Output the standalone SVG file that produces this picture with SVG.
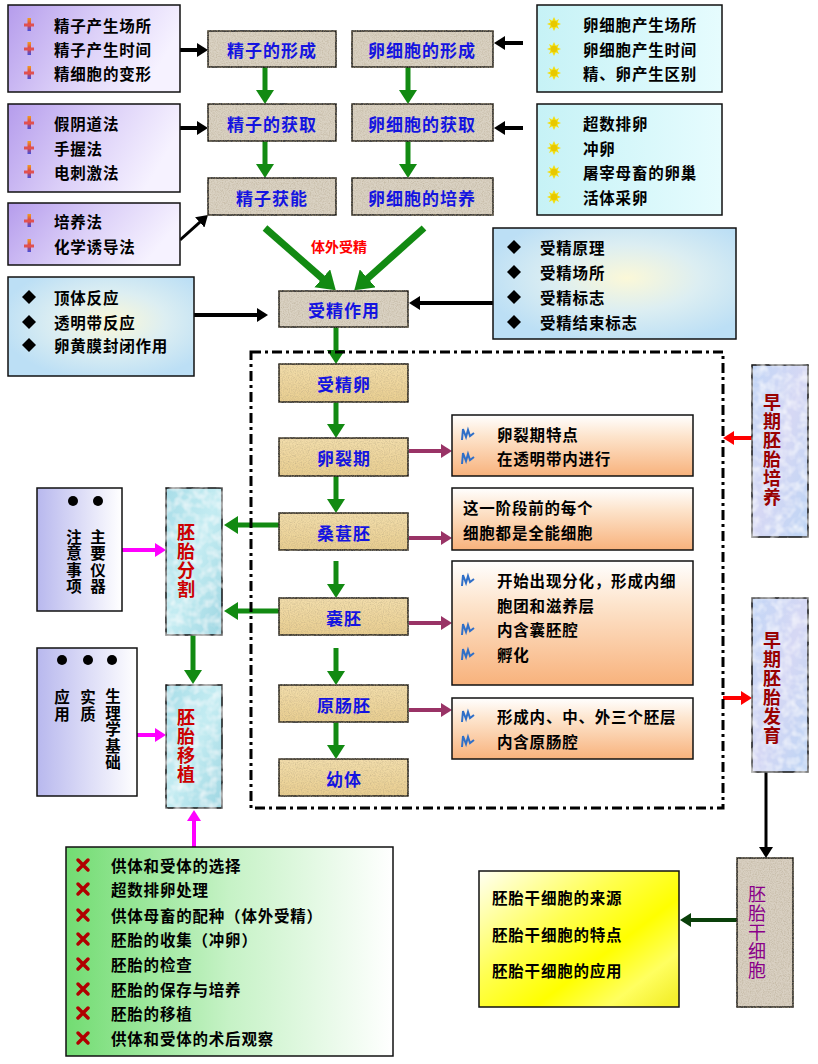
<svg xmlns="http://www.w3.org/2000/svg" xmlns:xlink="http://www.w3.org/1999/xlink" width="818" height="1064" viewBox="0 0 818 1064">
<style>
text{font-family:'Noto Sans CJK SC','Noto Sans CJK JP',sans-serif;font-weight:bold;dominant-baseline:central}
.li{font-size:15.5px;fill:#000;letter-spacing:0.8px}
.nd{font-size:17px;fill:#1414E0;text-anchor:middle;letter-spacing:1px}
.vt{font-size:15.5px;fill:#000;text-anchor:middle;writing-mode:vertical-rl;letter-spacing:1px}
.vr{font-size:18px;fill:#CC0000;text-anchor:middle;writing-mode:vertical-rl;letter-spacing:1px}
.vd{font-size:18px;fill:#990000;text-anchor:middle;writing-mode:vertical-rl;letter-spacing:1px}
.vp{font-size:18px;fill:#8A008A;text-anchor:middle;font-weight:normal;writing-mode:vertical-rl;letter-spacing:1px}
.box{stroke:#111;stroke-width:1.5}
.ag{stroke:#128A12;stroke-width:5;fill:none}
.agb{stroke:#128A12;stroke-width:7;fill:none}
.ak{stroke:#000;stroke-width:4;fill:none}
.ap{stroke:#993366;stroke-width:4;fill:none}
.am{stroke:#FF00FF;stroke-width:4;fill:none}
.ar{stroke:#FF0000;stroke-width:4;fill:none}
.ad{stroke:#0A400A;stroke-width:4;fill:none}
</style>
<defs>
<linearGradient id="gPur" x1="0" y1="0" x2="1" y2="0.3"><stop offset="0" stop-color="#B59CEC"/><stop offset="0.55" stop-color="#DCD0F8"/><stop offset="1" stop-color="#F6F2FF"/></linearGradient>
<linearGradient id="gCyan" x1="0" y1="0" x2="1" y2="0"><stop offset="0" stop-color="#C6F2F6"/><stop offset="1" stop-color="#E6FCFE"/></linearGradient>
<radialGradient id="gBlue" cx="0.55" cy="0.45" r="0.6"><stop offset="0" stop-color="#FBF8D8"/><stop offset="0.5" stop-color="#DCEEF2"/><stop offset="1" stop-color="#BCDFF5"/></radialGradient>
<linearGradient id="gOr" x1="0" y1="0" x2="0" y2="1"><stop offset="0" stop-color="#FFFFFF"/><stop offset="0.35" stop-color="#FDE4CC"/><stop offset="1" stop-color="#F8B27C"/></linearGradient>
<linearGradient id="gLav" x1="0" y1="0" x2="1" y2="0"><stop offset="0" stop-color="#B8B8EE"/><stop offset="1" stop-color="#FFFFFF"/></linearGradient>
<linearGradient id="gGrn" x1="0" y1="0" x2="1" y2="0"><stop offset="0" stop-color="#72DC72"/><stop offset="0.5" stop-color="#C6F2C6"/><stop offset="1" stop-color="#FFFFFF"/></linearGradient>
<linearGradient id="gYel" x1="0" y1="0" x2="1" y2="0.9"><stop offset="0" stop-color="#FFFFF4"/><stop offset="0.4" stop-color="#FFFF50"/><stop offset="0.65" stop-color="#FFFF00"/><stop offset="0.85" stop-color="#FFFF60"/><stop offset="1" stop-color="#F4F030"/></linearGradient>
<linearGradient id="gTan" x1="0" y1="0" x2="0" y2="1"><stop offset="0" stop-color="#F3DEAC"/><stop offset="1" stop-color="#E9CE90"/></linearGradient>
<linearGradient id="gWater" x1="0" y1="0" x2="1" y2="1"><stop offset="0" stop-color="#A8DDE8"/><stop offset="0.5" stop-color="#C4ECF2"/><stop offset="1" stop-color="#9ED6E2"/></linearGradient>
<linearGradient id="gSky" x1="0" y1="0" x2="1" y2="1"><stop offset="0" stop-color="#C2D6F6"/><stop offset="0.5" stop-color="#D6D8F4"/><stop offset="1" stop-color="#BCD4F4"/></linearGradient>
<linearGradient id="gPlus" x1="0" y1="0" x2="0" y2="1"><stop offset="0" stop-color="#F0A020"/><stop offset="0.5" stop-color="#E04040"/><stop offset="1" stop-color="#4050E0"/></linearGradient>
<filter id="tex"><feTurbulence type="fractalNoise" baseFrequency="0.85" numOctaves="2" seed="4" result="n"/><feColorMatrix in="n" type="matrix" values="0 0 0 0 0.4  0 0 0 0 0.33  0 0 0 0 0.2  0 0 0 1 -0.38" result="s"/><feComposite in="s" in2="SourceGraphic" operator="in" result="t"/><feMerge><feMergeNode in="SourceGraphic"/><feMergeNode in="t"/></feMerge></filter>
<filter id="texw"><feTurbulence type="fractalNoise" baseFrequency="0.12" numOctaves="2" seed="7" result="n"/><feColorMatrix in="n" type="matrix" values="0 0 0 0 1  0 0 0 0 1  0 0 0 0 1  0 0 0 1.2 -0.45" result="s"/><feComposite in="s" in2="SourceGraphic" operator="in" result="t"/><feMerge><feMergeNode in="SourceGraphic"/><feMergeNode in="t"/></feMerge></filter>
<marker id="mg" markerUnits="userSpaceOnUse" markerWidth="15" markerHeight="18" refX="1" refY="9" orient="auto"><path d="M0,0 L14,9 L0,18 z" fill="#128A12"/></marker>
<marker id="mgb" markerUnits="userSpaceOnUse" markerWidth="19" markerHeight="24" refX="1" refY="12" orient="auto"><path d="M0,0 L18,12 L0,24 z" fill="#128A12"/></marker>
<marker id="mk" markerUnits="userSpaceOnUse" markerWidth="12" markerHeight="14" refX="1" refY="7" orient="auto"><path d="M0,0 L11,7 L0,14 z" fill="#000"/></marker>
<marker id="mp" markerUnits="userSpaceOnUse" markerWidth="12" markerHeight="14" refX="1" refY="7" orient="auto"><path d="M0,0 L11,7 L0,14 z" fill="#993366"/></marker>
<marker id="mm" markerUnits="userSpaceOnUse" markerWidth="12" markerHeight="14" refX="1" refY="7" orient="auto"><path d="M0,0 L11,7 L0,14 z" fill="#FF00FF"/></marker>
<marker id="mr" markerUnits="userSpaceOnUse" markerWidth="12" markerHeight="14" refX="1" refY="7" orient="auto"><path d="M0,0 L11,7 L0,14 z" fill="#FF0000"/></marker>
<marker id="md" markerUnits="userSpaceOnUse" markerWidth="12" markerHeight="14" refX="1" refY="7" orient="auto"><path d="M0,0 L11,7 L0,14 z" fill="#0A400A"/></marker>
<g id="icPlus"><rect x="-1.5" y="-7" width="3.5" height="13" fill="url(#gPlus)"/><rect x="-5" y="-1.5" width="10" height="3" fill="#E05050"/></g>
<g id="icSun"><polygon points="0,-7 1.8,-3.2 5,-5 3.4,-1.4 7,0 3.4,1.4 5,5 1.8,3.2 0,7 -1.8,3.2 -5,5 -3.4,1.4 -7,0 -3.4,-1.4 -5,-5 -1.8,-3.2" fill="#F2DE10"/><circle r="3.3" fill="#E8C800"/></g>
<polygon id="icDia" points="0,-7 7,0 0,7 -7,0" fill="#000"/>
<path id="icWave" d="M-6,6 L-5,-5 L-2,3 L0,-4 L2,2 L6,-1" fill="none" stroke="#2F6FC8" stroke-width="2"/>
<g id="icX"><path d="M-5,-5 L5,5 M5,-5 L-5,5" stroke="#B00000" stroke-width="3.5" stroke-linecap="round"/></g>
</defs>
<rect width="818" height="1064" fill="#FFFFFF"/>

<g id="connectors">
<line class="ag" x1="265" y1="67" x2="265" y2="91" marker-end="url(#mg)"/>
<line class="ag" x1="408" y1="67" x2="408" y2="91" marker-end="url(#mg)"/>
<line class="ag" x1="265" y1="141" x2="265" y2="165" marker-end="url(#mg)"/>
<line class="ag" x1="408" y1="141" x2="408" y2="165" marker-end="url(#mg)"/>
<line class="agb" x1="265" y1="228" x2="323" y2="279" marker-end="url(#mgb)"/>
<line class="agb" x1="424" y1="228" x2="367" y2="279" marker-end="url(#mgb)"/>
<line class="ag" x1="336" y1="327" x2="336" y2="351" marker-end="url(#mg)"/>
<line class="ag" x1="336" y1="402" x2="336" y2="425" marker-end="url(#mg)"/>
<line class="ag" x1="336" y1="476" x2="336" y2="500" marker-end="url(#mg)"/>
<line class="ag" x1="336" y1="561" x2="336" y2="585" marker-end="url(#mg)"/>
<line class="ag" x1="336" y1="648" x2="336" y2="672" marker-end="url(#mg)"/>
<line class="ag" x1="336" y1="722" x2="336" y2="746" marker-end="url(#mg)"/>
<line class="ag" x1="280" y1="525" x2="237" y2="525" marker-end="url(#mg)"/>
<line class="ag" x1="280" y1="611" x2="237" y2="611" marker-end="url(#mg)"/>
<line class="ag" x1="193" y1="635" x2="193" y2="671" marker-end="url(#mg)"/>
<line class="ak" x1="180" y1="50" x2="198" y2="50" marker-end="url(#mk)"/>
<line class="ak" x1="180" y1="128" x2="198" y2="128" marker-end="url(#mk)"/>
<line class="ak" style="stroke-width:3" x1="180" y1="240" x2="200.5" y2="221.7" marker-end="url(#mk)"/>
<line class="ak" x1="523" y1="43" x2="504" y2="43" marker-end="url(#mk)"/>
<line class="ak" x1="523" y1="128" x2="504" y2="128" marker-end="url(#mk)"/>
<line class="ak" x1="194" y1="315" x2="258" y2="315" marker-end="url(#mk)"/>
<line class="ak" x1="493" y1="303" x2="419" y2="303" marker-end="url(#mk)"/>
<line class="ak" style="stroke-width:3" x1="766" y1="772" x2="766" y2="848" marker-end="url(#mk)"/>
<line class="ap" x1="409" y1="451" x2="442" y2="451" marker-end="url(#mp)"/>
<line class="ap" x1="409" y1="538" x2="442" y2="538" marker-end="url(#mp)"/>
<line class="ap" x1="409" y1="623" x2="442" y2="623" marker-end="url(#mp)"/>
<line class="ap" x1="409" y1="710" x2="442" y2="710" marker-end="url(#mp)"/>
<line class="am" x1="122" y1="550" x2="156" y2="550" marker-end="url(#mm)"/>
<line class="am" x1="137" y1="735" x2="156" y2="735" marker-end="url(#mm)"/>
<line class="am" x1="194" y1="847" x2="194" y2="820" marker-end="url(#mm)"/>
<line class="ar" x1="752" y1="438" x2="733" y2="438" marker-end="url(#mr)"/>
<line class="ar" x1="723" y1="698" x2="742" y2="698" marker-end="url(#mr)"/>
<line class="ad" x1="737" y1="920" x2="690" y2="920" marker-end="url(#md)"/>
</g>

<g id="frame"><rect x="251" y="352" width="472" height="456" fill="none" stroke="#000" stroke-width="3" stroke-dasharray="10,4,3,4"/></g>

<g id="sperm-info1"><rect class="box" x="8" y="5" width="172" height="87" fill="url(#gPur)"/>
<use href="#icPlus" x="29" y="25"/><use href="#icPlus" x="29" y="49"/><use href="#icPlus" x="29" y="73"/>
<text class="li" x="54" y="25">精子产生场所</text><text class="li" x="54" y="49">精子产生时间</text><text class="li" x="54" y="73">精细胞的变形</text></g>
<g id="sperm-info2"><rect class="box" x="8" y="104" width="172" height="88" fill="url(#gPur)"/>
<use href="#icPlus" x="29" y="123"/><use href="#icPlus" x="29" y="148"/><use href="#icPlus" x="29" y="172"/>
<text class="li" x="54" y="123">假阴道法</text><text class="li" x="54" y="148">手握法</text><text class="li" x="54" y="172">电刺激法</text></g>
<g id="sperm-info3"><rect class="box" x="8" y="203" width="172" height="62" fill="url(#gPur)"/>
<use href="#icPlus" x="29" y="221"/><use href="#icPlus" x="29" y="246"/>
<text class="li" x="54" y="221">培养法</text><text class="li" x="54" y="246">化学诱导法</text></g>
<g id="fert-info1"><rect class="box" x="8" y="277" width="186" height="99" fill="url(#gBlue)"/>
<use href="#icDia" x="29" y="297"/><use href="#icDia" x="29" y="322"/><use href="#icDia" x="29" y="345"/>
<text class="li" x="54" y="297">顶体反应</text><text class="li" x="54" y="322">透明带反应</text><text class="li" x="54" y="345">卵黄膜封闭作用</text></g>
<g id="egg-info1"><rect class="box" x="537" y="5" width="185" height="87" fill="url(#gCyan)"/>
<use href="#icSun" x="554" y="24"/><use href="#icSun" x="554" y="49"/><use href="#icSun" x="554" y="73"/>
<text class="li" x="583" y="24">卵细胞产生场所</text><text class="li" x="583" y="49">卵细胞产生时间</text><text class="li" x="583" y="73">精、卵产生区别</text></g>
<g id="egg-info2"><rect class="box" x="537" y="104" width="185" height="111" fill="url(#gCyan)"/>
<use href="#icSun" x="554" y="123"/><use href="#icSun" x="554" y="148"/><use href="#icSun" x="554" y="172"/><use href="#icSun" x="554" y="197"/>
<text class="li" x="583" y="123">超数排卵</text><text class="li" x="583" y="148">冲卵</text><text class="li" x="583" y="172">屠宰母畜的卵巢</text><text class="li" x="583" y="197">活体采卵</text></g>
<g id="fert-info2"><rect class="box" x="493" y="228" width="243" height="111" fill="url(#gBlue)"/>
<use href="#icDia" x="514" y="247"/><use href="#icDia" x="514" y="272"/><use href="#icDia" x="514" y="297"/><use href="#icDia" x="514" y="322"/>
<text class="li" x="540" y="247">受精原理</text><text class="li" x="540" y="272">受精场所</text><text class="li" x="540" y="297">受精标志</text><text class="li" x="540" y="322">受精结束标志</text></g>

<g id="n-sperm-form"><rect class="box" x="208" y="31" width="128" height="36" fill="#DAD2C3" filter="url(#tex)"/><text class="nd" x="272" y="49">精子的形成</text></g>
<g id="n-egg-form"><rect class="box" x="352" y="31" width="141" height="36" fill="#DAD2C3" filter="url(#tex)"/><text class="nd" x="422" y="49">卵细胞的形成</text></g>
<g id="n-sperm-get"><rect class="box" x="208" y="104" width="128" height="37" fill="#DAD2C3" filter="url(#tex)"/><text class="nd" x="272" y="123">精子的获取</text></g>
<g id="n-egg-get"><rect class="box" x="352" y="104" width="141" height="37" fill="#DAD2C3" filter="url(#tex)"/><text class="nd" x="422" y="123">卵细胞的获取</text></g>
<g id="n-capacitation"><rect class="box" x="208" y="178" width="128" height="37" fill="#DAD2C3" filter="url(#tex)"/><text class="nd" x="272" y="197">精子获能</text></g>
<g id="n-egg-culture"><rect class="box" x="352" y="178" width="141" height="37" fill="#DAD2C3" filter="url(#tex)"/><text class="nd" x="422" y="197">卵细胞的培养</text></g>
<g id="lbl-ivf"><text x="339" y="246" style="font-size:14px;fill:#FF0000;text-anchor:middle">体外受精</text></g>
<g id="n-fertilization"><rect class="box" x="279" y="291" width="129" height="36" fill="#DAD2C3" filter="url(#tex)"/><text class="nd" x="344" y="309">受精作用</text></g>

<g id="n-zygote"><rect class="box" x="279" y="364" width="129" height="38" fill="url(#gTan)" filter="url(#tex)"/><text class="nd" x="344" y="383">受精卵</text></g>
<g id="n-cleavage"><rect class="box" x="279" y="438" width="129" height="38" fill="url(#gTan)" filter="url(#tex)"/><text class="nd" x="344" y="457">卵裂期</text></g>
<g id="n-morula"><rect class="box" x="279" y="513" width="129" height="37" fill="url(#gTan)" filter="url(#tex)"/><text class="nd" x="344" y="532">桑葚胚</text></g>
<g id="n-blastocyst"><rect class="box" x="279" y="598" width="129" height="37" fill="url(#gTan)" filter="url(#tex)"/><text class="nd" x="344" y="617">囊胚</text></g>
<g id="n-gastrula"><rect class="box" x="279" y="685" width="129" height="37" fill="url(#gTan)" filter="url(#tex)"/><text class="nd" x="344" y="704">原肠胚</text></g>
<g id="n-larva"><rect class="box" x="279" y="759" width="129" height="37" fill="url(#gTan)" filter="url(#tex)"/><text class="nd" x="344" y="778">幼体</text></g>

<g id="cleavage-info"><rect class="box" x="452" y="415" width="241" height="61" fill="url(#gOr)"/>
<use href="#icWave" x="468" y="434"/><use href="#icWave" x="468" y="458"/>
<text class="li" x="497" y="434">卵裂期特点</text><text class="li" x="497" y="458">在透明带内进行</text></g>
<g id="morula-info"><rect class="box" x="452" y="488" width="241" height="62" fill="url(#gOr)"/>
<text class="li" x="463" y="507">这一阶段前的每个</text><text class="li" x="463" y="532">细胞都是全能细胞</text></g>
<g id="blastocyst-info"><rect class="box" x="452" y="561" width="241" height="124" fill="url(#gOr)"/>
<use href="#icWave" x="468" y="580"/><use href="#icWave" x="468" y="629"/><use href="#icWave" x="468" y="654"/>
<text class="li" x="497" y="580">开始出现分化，形成内细</text><text class="li" x="497" y="605">胞团和滋养层</text><text class="li" x="497" y="629">内含囊胚腔</text><text class="li" x="497" y="654">孵化</text></g>
<g id="gastrula-info"><rect class="box" x="452" y="698" width="241" height="61" fill="url(#gOr)"/>
<use href="#icWave" x="468" y="716"/><use href="#icWave" x="468" y="741"/>
<text class="li" x="497" y="716">形成内、中、外三个胚层</text><text class="li" x="497" y="741">内含原肠腔</text></g>

<g id="n-embryo-split"><rect class="box" x="166" y="488" width="56" height="147" fill="url(#gWater)" filter="url(#texw)"/>
<text class="vr" x="186" y="561">胚胎分割</text></g>
<g id="n-embryo-transfer"><rect class="box" x="166" y="685" width="56" height="123" fill="url(#gWater)" filter="url(#texw)"/>
<text class="vr" x="186" y="746">胚胎移植</text></g>
<g id="split-info"><rect class="box" x="37" y="488" width="85" height="123" fill="url(#gLav)"/>
<circle cx="73" cy="501" r="5" fill="#000"/><circle cx="98" cy="501" r="5" fill="#000"/>
<text class="vt" x="98" y="562">主要仪器</text>
<text class="vt" x="74" y="562">注意事项</text></g>
<g id="transfer-info"><rect class="box" x="37" y="648" width="100" height="148" fill="url(#gLav)"/>
<circle cx="62" cy="660" r="5" fill="#000"/><circle cx="88" cy="660" r="5" fill="#000"/><circle cx="112" cy="660" r="5" fill="#000"/>
<text class="vt" x="113" y="730">生理学基础</text>
<text class="vt" x="88" y="706">实质</text>
<text class="vt" x="62" y="706">应用</text></g>
<g id="transfer-steps"><rect class="box" x="66" y="847" width="327" height="209" fill="url(#gGrn)"/>
<use href="#icX" x="83" y="865"/><use href="#icX" x="83" y="889"/><use href="#icX" x="83" y="915"/><use href="#icX" x="83" y="939"/><use href="#icX" x="83" y="964"/><use href="#icX" x="83" y="989"/><use href="#icX" x="83" y="1013"/><use href="#icX" x="83" y="1038"/>
<text class="li" x="111" y="865">供体和受体的选择</text><text class="li" x="111" y="889">超数排卵处理</text><text class="li" x="111" y="915">供体母畜的配种（体外受精）</text><text class="li" x="111" y="939">胚胎的收集（冲卵）</text><text class="li" x="111" y="964">胚胎的检查</text><text class="li" x="111" y="989">胚胎的保存与培养</text><text class="li" x="111" y="1013">胚胎的移植</text><text class="li" x="111" y="1038">供体和受体的术后观察</text></g>

<g id="n-early-culture"><rect class="box" x="752" y="365" width="56" height="172" fill="url(#gSky)" filter="url(#texw)"/>
<text class="vd" x="772" y="450">早期胚胎培养</text></g>
<g id="n-early-dev"><rect class="box" x="752" y="598" width="56" height="174" fill="url(#gSky)" filter="url(#texw)"/>
<text class="vd" x="772" y="688">早期胚胎发育</text></g>
<g id="n-esc"><rect class="box" x="737" y="858" width="56" height="149" fill="#D9D0C2" filter="url(#tex)"/>
<text class="vp" x="757" y="933">胚胎干细胞</text></g>
<g id="esc-info"><rect class="box" x="479" y="871" width="200" height="136" fill="url(#gYel)"/>
<text class="li" x="492" y="897">胚胎干细胞的来源</text><text class="li" x="492" y="934">胚胎干细胞的特点</text><text class="li" x="492" y="970">胚胎干细胞的应用</text></g>
</svg>
